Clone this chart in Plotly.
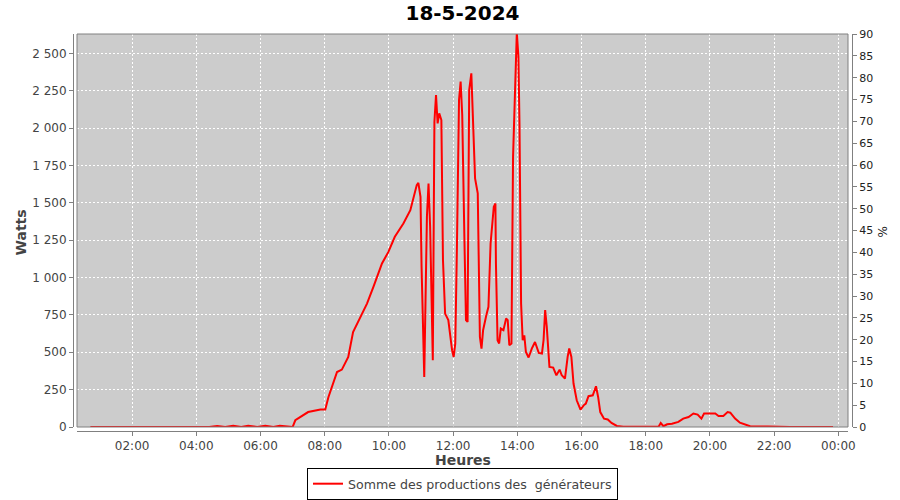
import plotly.graph_objects as go

DATE = "2024-05-18"

times = [
    "00:42", "01:30", "02:30", "03:18", "04:00", "04:24", "04:39", "04:54", "05:09", "05:24",
    "05:37", "05:54", "06:09", "06:24", "06:36", "06:51", "07:00", "07:05", "07:17", "07:29",
    "07:52", "08:01", "08:07", "08:23", "08:32", "08:44", "08:53", "09:06", "09:19", "09:31",
    "09:47", "09:59", "10:11", "10:27", "10:40", "10:52", "10:55", "10:59", "11:01", "11:06",
    "11:11", "11:14", "11:17", "11:22", "11:25", "11:28", "11:31", "11:34", "11:38", "11:41",
    "11:45", "11:51", "11:58", "12:01", "12:04", "12:07", "12:11", "12:14", "12:17", "12:21",
    "12:24", "12:27", "12:30", "12:34", "12:37", "12:41", "12:46", "12:47", "12:50", "12:53",
    "12:56", "13:02", "13:06", "13:10", "13:16", "13:19", "13:20", "13:23", "13:26", "13:29",
    "13:34", "13:39", "13:42", "13:45", "13:49", "13:52", "13:56", "13:59", "14:02", "14:04",
    "14:07", "14:10", "14:13", "14:16", "14:21", "14:27", "14:33", "14:40", "14:46", "14:49",
    "14:52", "14:55", "15:00", "15:07", "15:13", "15:19", "15:23", "15:29", "15:34", "15:37",
    "15:41", "15:45", "15:51", "15:58", "16:04", "16:08", "16:13", "16:21", "16:27", "16:31",
    "16:35", "16:42", "16:49", "16:56", "17:06", "17:18", "18:24", "18:28", "18:33", "18:40",
    "18:49", "19:01", "19:10", "19:20", "19:29", "19:37", "19:44", "19:49", "20:10", "20:16",
    "20:25", "20:33", "20:38", "20:47", "20:56", "21:06", "21:15", "21:48", "22:30", "23:50",
]

watts = [
    0, 0, 2, 0, 2, 0, 6, 0, 8, 0,
    8, 0, 8, 0, 8, 0, 0, 45, 74, 100,
    117, 117, 201, 368, 384, 469, 636, 737, 826, 938,
    1094, 1172, 1273, 1362, 1451, 1619, 1634, 1541, 1072, 335,
    1407, 1630, 1340, 447, 2043, 2222, 2032, 2099, 2054, 1117,
    759, 715, 514, 469, 559, 1184, 2188, 2311, 2088, 1273,
    715, 703, 2255, 2367, 2054, 1664, 1563, 1295, 603, 525,
    648, 748, 804, 1228, 1474, 1496, 1094, 581, 559, 659,
    648, 726, 715, 547, 559, 1809, 2255, 2640, 2478, 2032,
    826, 581, 614, 502, 465, 525, 569, 496, 492, 581,
    782, 670, 402, 398, 346, 384, 346, 324, 469, 525,
    469, 291, 179, 117, 145, 157, 206, 212, 273, 201,
    100, 56, 50, 27, 7, 2, 2, 27, 5, 18,
    22, 34, 56, 67, 90, 83, 56, 90, 90, 74,
    74, 100, 96, 56, 29, 18, 5, 3, 0, 0,
]

w_ticks = [0, 250, 500, 750, 1000, 1250, 1500, 1750, 2000, 2250, 2500]
w_labels = ["0", "250", "500", "750", "1 000", "1 250", "1 500", "1 750", "2 000", "2 250", "2 500"]
pct_ticks = list(range(0, 95, 5))

W_MAX = 2630
PCT_MAX = 90

x = [f"{DATE} {t}" for t in times]
pct = [w * PCT_MAX / W_MAX for w in watts]

FONT = "DejaVu Sans"
AX = "#808080"
TXT = "#444444"

fig = go.Figure()
fig.add_trace(go.Scatter(
    x=x, y=watts, mode="lines",
    line=dict(color="#ff0000", width=2),
    name="Somme des productions des  générateurs",
))
fig.add_trace(go.Scatter(
    x=x, y=pct, yaxis="y2", mode="lines",
    line=dict(color="rgba(0,0,0,0)", width=0),
    showlegend=False, hoverinfo="skip",
))

fig.update_layout(
    width=900, height=500,
    paper_bgcolor="white", plot_bgcolor="#cccccc",
    margin=dict(l=73, r=48, t=34, b=69, autoexpand=False),
    font=dict(family=FONT, size=12, color=TXT),
    title=dict(text="<b>18-5-2024</b>", x=0.5, xanchor="center", xref="paper",
               y=0.974, yanchor="middle", yref="container", automargin=False,
               font=dict(family=FONT, size=20, color="black")),
    xaxis=dict(
        type="date", domain=[4 / 779, 1 - 4 / 779], anchor="free", position=0,
        range=[f"{DATE} 00:17", "2024-05-19 00:18"],
        tick0=f"{DATE} 00:00", dtick=2 * 3600 * 1000, tickformat="%H:%M",
        showgrid=True, gridcolor="white", gridwidth=1, griddash="2px,2px",
        showline=True, linecolor=AX, linewidth=1,
        ticks="outside", ticklen=4, tickcolor=AX,
        tickfont=dict(size=12, color=TXT),
        zeroline=False, automargin=False,
    ),
    yaxis=dict(
        domain=[4 / 397, 1], anchor="free", position=0,
        range=[0, W_MAX], tickvals=w_ticks, ticktext=w_labels,
        showgrid=True, gridcolor="white", gridwidth=1, griddash="2px,2px",
        showline=True, linecolor=AX, linewidth=1,
        ticks="outside", ticklen=4, tickcolor=AX,
        tickfont=dict(size=12, color=TXT),
        zeroline=False, automargin=False,
    ),
    yaxis2=dict(
        overlaying="y", side="right", anchor="free", position=1,
        range=[0, PCT_MAX], tickvals=pct_ticks,
        showgrid=False, showline=True, linecolor=AX, linewidth=1,
        ticks="outside", ticklen=4, tickcolor=AX,
        tickfont=dict(size=11, color="#222222"),
        zeroline=False, automargin=False,
    ),
    legend=dict(
        x=0.5, xanchor="center", y=-37 / 397, yanchor="top", orientation="h",
        bgcolor="white", bordercolor="black", borderwidth=1,
        font=dict(size=12.6, color=TXT), itemwidth=30,
    ),
    shapes=[dict(type="rect", xref="x domain", yref="y domain", x0=0, x1=1, y0=0, y1=1,
                 line=dict(color=AX, width=1), fillcolor="rgba(0,0,0,0)", layer="above")],
    annotations=[
        dict(text="<b>Watts</b>", xref="paper", yref="paper", x=-53 / 779, y=0.5,
             xanchor="center", yanchor="middle", textangle=-90, showarrow=False,
             font=dict(size=14, color=TXT)),
        dict(text="<b>Heures</b>", xref="paper", yref="paper", x=0.5, y=-29 / 397,
             xanchor="center", yanchor="middle", showarrow=False,
             font=dict(size=14, color=TXT)),
        dict(text="%", xref="paper", yref="paper", x=1 + 30 / 779, y=0.5,
             xanchor="center", yanchor="middle", textangle=-90, showarrow=False,
             font=dict(size=12, color="#222222")),
    ],
    showlegend=True,
)

fig.write_html("out.html", config={"displayModeBar": False},
               post_script="document.body.style.margin='0';")
